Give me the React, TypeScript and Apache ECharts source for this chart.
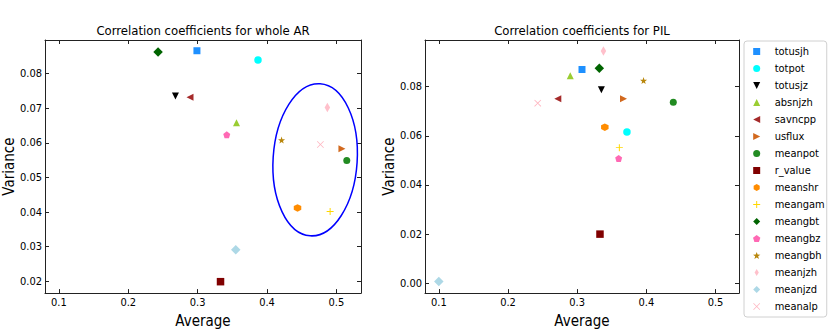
import React, { useEffect, useRef } from "react";
import * as echarts from "echarts";

const names = ["totusjh", "totpot", "totusjz", "absnjzh", "savncpp", "usflux", "meanpot", "r_value", "meanshr", "meangam", "meangbt", "meangbz", "meangbh", "meanjzh", "meanjzd", "meanalp"];
const arAverage = [0.299, 0.387, 0.268, 0.356, 0.289, 0.508, 0.515, 0.333, 0.444, 0.491, 0.243, 0.342, 0.421, 0.487, 0.355, 0.477];
const arVariance = [0.0866, 0.0839, 0.0735, 0.0658, 0.0732, 0.0583, 0.0549, 0.0199, 0.0412, 0.0402, 0.0862, 0.0623, 0.0608, 0.0702, 0.0291, 0.0595];
const pilAverage = [0.307, 0.372, 0.335, 0.29, 0.272, 0.367, 0.439, 0.333, 0.34, 0.361, 0.332, 0.36, 0.396, 0.338, 0.1, 0.243];
const pilVariance = [0.087, 0.0616, 0.0788, 0.0845, 0.0751, 0.0751, 0.0737, 0.02, 0.0635, 0.0552, 0.0875, 0.0508, 0.0825, 0.0945, 0.0007, 0.0733];

const titles = ["Correlation coefficients for whole AR", "Correlation coefficients for PIL"];
const xName = "Average";
const yName = "Variance";

// annotation ellipse (whole AR panel), in data units
const ellipseCenter = [0.4694, 0.0551];
const ellipseRadii = [0.0606, 0.022];

const colors = ["#1E90FF", "#00FFFF", "#000000", "#9ACD32", "#A52A2A", "#D2691E", "#228B22", "#800000", "#FF8C00", "#FFD700", "#006400", "#FF69B4", "#B8860B", "#FFC0CB", "#ADD8E6", "#FFB6C1"];

const SQUARE = "path://M0,0 L10,0 L10,10 L0,10 Z";
const CIRCLE = "path://M5,0 A5,5 0 1,1 5,10 A5,5 0 1,1 5,0 Z";
const DIAMOND = "path://M5,0 L10,5 L5,10 L0,5 Z";
const THIN_DIAMOND = "path://M3,0 L6,5 L3,10 L0,5 Z";

const symbols: string[] = [
  SQUARE,
  CIRCLE,
  "path://M0,0 L10,0 L5,10 Z",
  "path://M5,0 L10,10 L0,10 Z",
  "path://M10,0 L10,10 L0,5 Z",
  "path://M0,0 L0,10 L10,5 Z",
  CIRCLE,
  SQUARE,
  "path://M5,0 L9.33,2.5 L9.33,7.5 L5,10 L0.67,7.5 L0.67,2.5 Z",
  "path://M4.3,0 L5.7,0 L5.7,4.3 L10,4.3 L10,5.7 L5.7,5.7 L5.7,10 L4.3,10 L4.3,5.7 L0,5.7 L0,4.3 L4.3,4.3 Z",
  DIAMOND,
  "path://M5,0 L9.76,3.45 L7.94,9.05 L2.06,9.05 L0.24,3.45 Z",
  "path://M5,0 L6.18,3.38 L9.76,3.45 L6.9,5.62 L7.94,9.05 L5,7 L2.06,9.05 L3.1,5.62 L0.24,3.45 L3.82,3.38 Z",
  THIN_DIAMOND,
  DIAMOND,
  "path://M0,0.8 L0.8,0 L5,4.2 L9.2,0 L10,0.8 L5.8,5 L10,9.2 L9.2,10 L5,5.8 L0.8,10 L0,9.2 L4.2,5 Z",
];
const sizes: any[] = [7, 7.5, 7, 7, 7, 7, 7, 7.5, 7.5, 7, 9.5, 7, 7, [5.5, 9.5], 9.5, 7];

const FONT = "'DejaVu Sans Condensed', 'DejaVu Sans', sans-serif";

function App() {
  const ref = useRef<HTMLDivElement>(null);
  useEffect(() => {
    const chart = echarts.init(ref.current!, null, { renderer: "svg" });
    const grids = [
      { left: 45, top: 40, width: 316, height: 256 },
      { left: 425, top: 40, width: 314, height: 256 },
    ];
    const xr = [
      [0.08, 0.5355],
      [0.08, 0.534],
    ];
    const yr = [
      [0.0166, 0.0897, 0.01, 2],
      [-0.004, 0.099, 0.02, 2],
    ];
    const lineStyle = { color: "#222", width: 1 };
    const xAxis: any[] = [];
    const yAxis: any[] = [];
    grids.forEach((g, i) => {
      const baseX = {
        type: "value",
        gridIndex: i,
        min: xr[i][0],
        max: xr[i][1],
        minInterval: 0.1,
        maxInterval: 0.1,
        splitLine: { show: false },
        axisLine: { show: true, onZero: false, lineStyle },
        axisTick: { show: true, inside: true, length: 4, lineStyle },
      };
      xAxis.push({
        ...baseX,
        position: "bottom",
        name: xName,
        nameLocation: "middle",
        nameGap: 15,
        nameTextStyle: { fontFamily: FONT, fontSize: 15, color: "#000" },
        axisLabel: {
          fontFamily: FONT,
          fontSize: 11,
          color: "#000",
          margin: 4,
          showMinLabel: false,
          showMaxLabel: false,
          formatter: (v: number) => v.toFixed(1),
        },
      });
      xAxis.push({ ...baseX, position: "top", axisLabel: { show: false } });
      const baseY = {
        type: "value",
        gridIndex: i,
        min: yr[i][0],
        max: yr[i][1],
        minInterval: yr[i][2],
        maxInterval: yr[i][2],
        splitLine: { show: false },
        axisLine: { show: true, onZero: false, lineStyle },
        axisTick: { show: true, inside: true, length: 4, lineStyle },
      };
      yAxis.push({
        ...baseY,
        position: "left",
        name: yName,
        nameLocation: "middle",
        nameGap: 27,
        nameTextStyle: { fontFamily: FONT, fontSize: 15, color: "#000" },
        axisLabel: {
          fontFamily: FONT,
          fontSize: 11,
          color: "#000",
          margin: 3,
          showMinLabel: false,
          showMaxLabel: false,
          formatter: (v: number) => v.toFixed(yr[i][3]),
        },
      });
      yAxis.push({ ...baseY, position: "right", axisLabel: { show: false } });
    });

    const series: any[] = [];
    const datasets = [
      [arAverage, arVariance],
      [pilAverage, pilVariance],
    ];
    datasets.forEach(([xs, ys], gi) => {
      names.forEach((n, k) => {
        series.push({
          type: "scatter",
          name: n,
          xAxisIndex: gi * 2,
          yAxisIndex: gi * 2,
          symbol: symbols[k],
          symbolSize: sizes[k],
          itemStyle: { color: colors[k], opacity: 1 },
          emphasis: { disabled: true },
          data: [[xs[k], ys[k]]],
        });
      });
    });

    chart.setOption({
      animation: false,
      title: titles.map((t, i) => ({
        text: t,
        left: grids[i].left + grids[i].width / 2,
        textAlign: "center",
        top: 24,
        padding: 0,
        textStyle: { fontFamily: FONT, fontSize: 13, fontWeight: "normal", color: "#000" },
      })),
      grid: grids,
      xAxis,
      yAxis,
      legend: {
        orient: "vertical",
        left: 744,
        top: 41,
        padding: [5, 2, 5, 9],
        itemWidth: 8,
        itemHeight: 7,
        itemGap: 6,
        symbolKeepAspect: true,
        borderColor: "#d0d0d0",
        borderWidth: 1,
        borderRadius: 3,
        data: names.map((n, k) => ({ name: n, icon: symbols[k] })),
        textStyle: { fontFamily: FONT, fontSize: 11, color: "#000", padding: [0, 0, 0, 9] },
        selectedMode: false,
      },
      series,
    });

    const c = chart.convertToPixel({ gridIndex: 0 }, ellipseCenter) as number[];
    const e = chart.convertToPixel({ gridIndex: 0 }, [ellipseCenter[0] + ellipseRadii[0], ellipseCenter[1] + ellipseRadii[1]]) as number[];
    chart.setOption({
      graphic: [
        {
          type: "ellipse",
          x: c[0],
          y: c[1],
          rotation: -0.065,
          shape: { cx: 0, cy: 0, rx: Math.abs(e[0] - c[0]), ry: Math.abs(e[1] - c[1]) },
          style: { fill: "none", stroke: "#0000FF", lineWidth: 1.5 },
          silent: true,
          z: 10,
        },
      ],
    });
    return () => chart.dispose();
  }, []);
  return <div ref={ref} style={{ width: 830, height: 333, position: "absolute", left: 0, top: 0 }} />;
}

export default App;
